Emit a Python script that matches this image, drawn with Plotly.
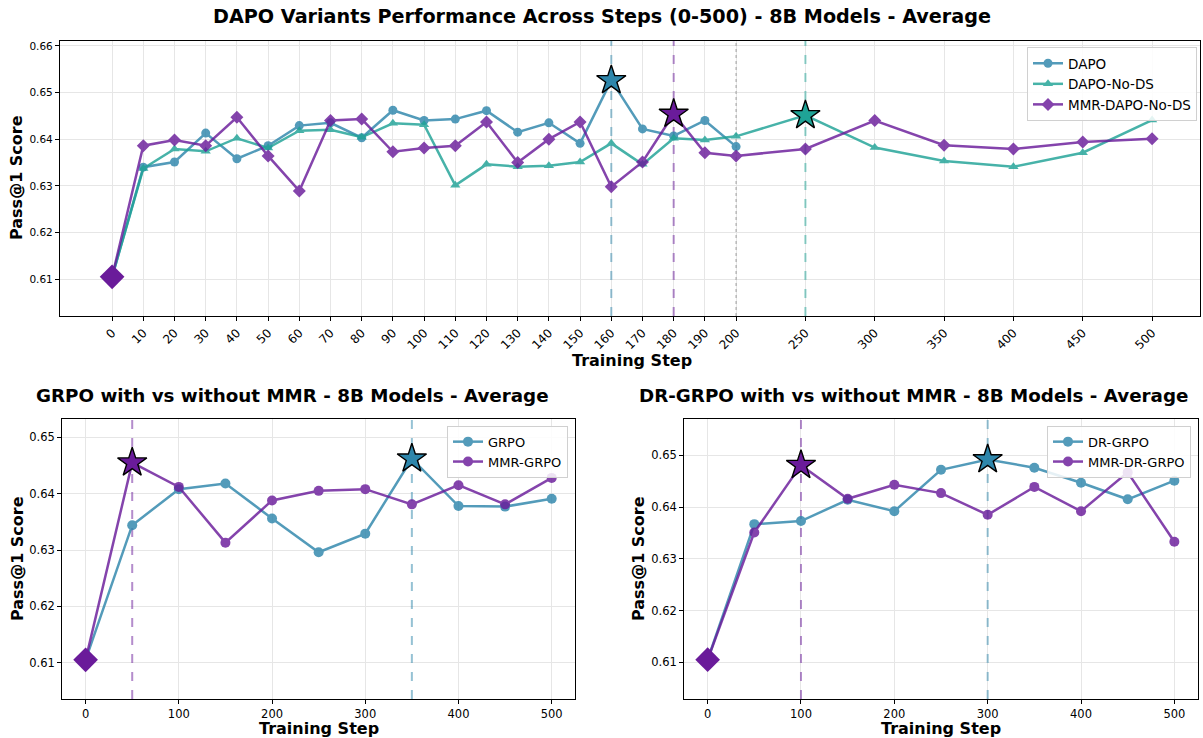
import plotly.graph_objects as go

# ---- data -------------------------------------------------------------
steps_dapo = list(range(0, 201, 10))
steps_full = list(range(0, 201, 10)) + [250, 300, 350, 400, 450, 500]
top_ticks = steps_full

dapo = [0.6105, 0.6340, 0.6351, 0.6413, 0.6358, 0.6386, 0.6429, 0.6435, 0.6403,
        0.6462, 0.6440, 0.6443, 0.6461, 0.6415, 0.6435, 0.6391, 0.6526, 0.6422,
        0.6407, 0.6440, 0.6384]
dapo_no_ds = [0.6105, 0.6337, 0.6379, 0.6374, 0.6402, 0.6381, 0.6418, 0.6420, 0.6404,
              0.6434, 0.6431, 0.6301, 0.6346, 0.6341, 0.6343, 0.6351, 0.6391, 0.6346,
              0.6402, 0.6398, 0.6406, 0.6451, 0.6382, 0.6353, 0.6341, 0.6371, 0.6441]
mmr_dapo_no_ds = [0.6105, 0.6386, 0.6398, 0.6386, 0.6447, 0.6364, 0.6289, 0.6440, 0.6443,
                  0.6373, 0.6381, 0.6386, 0.6437, 0.6350, 0.6400, 0.6437, 0.6298, 0.6351,
                  0.6454, 0.6371, 0.6364, 0.6379, 0.6440, 0.6387, 0.6379, 0.6394, 0.6401]

steps_coarse = [0, 50, 100, 150, 200, 250, 300, 350, 400, 450, 500]
grpo = [0.6105, 0.6344, 0.6408, 0.6418, 0.6356, 0.6296, 0.6329, 0.6462, 0.6378, 0.6377, 0.6391]
mmr_grpo = [0.6105, 0.6455, 0.6412, 0.6313, 0.6388, 0.6405, 0.6408, 0.6381, 0.6415, 0.6381, 0.6428]
dr_grpo = [0.6105, 0.6367, 0.6373, 0.6414, 0.6392, 0.6472, 0.6492, 0.6476, 0.6447, 0.6415, 0.6451]
mmr_dr_grpo = [0.6105, 0.6351, 0.6481, 0.6416, 0.6443, 0.6427, 0.6385, 0.6439, 0.6392, 0.6467, 0.6333]

# ---- style ------------------------------------------------------------
BLUE = "#2E86AB"
TEAL = "#1FA396"
PURPLE = "#6A1B9A"
FONT = "DejaVu Sans"
W, H = 1203, 738

Y_TOP = [0.6021, 0.6611]
Y_GRPO = [0.60355, 0.6532]
Y_DR = [0.60291, 0.65696]


def top_pos(step):
    """Compressed position for the top axis: steps past 200 are squeezed."""
    return step if step <= 200 else 200 + (step - 200) * 4 / 9


def px_x(p):
    return p / W


def px_y(p):
    return 1 - p / H


def best(x, y):
    i = max(range(len(y)), key=lambda k: y[k])
    return x[i], y[i]


fig = go.Figure()


def vline(x, yr, color, xa, ya, dash="dash", width=2, opacity=0.5):
    # drawn as a trace so it sits above the grid but under the data
    fig.add_trace(go.Scatter(
        x=[x, x], y=yr, mode="lines", showlegend=False, hoverinfo="skip",
        line=dict(color=color, width=width, dash=dash), opacity=opacity,
        xaxis=xa, yaxis=ya,
    ))


def add_series(x, y, name, color, symbol, size, xa, ya, legend):
    fig.add_trace(go.Scatter(
        x=x, y=y, name=name, mode="lines+markers",
        line=dict(color=color, width=2.5),
        marker=dict(color=color, symbol=symbol, size=size),
        opacity=0.82, xaxis=xa, yaxis=ya, legend=legend,
    ))


def add_star(x, y, color, xa, ya):
    bx, by = best(x, y)
    fig.add_trace(go.Scatter(
        x=[bx], y=[by], mode="markers", showlegend=False,
        marker=dict(symbol="star", size=22, color=color, line=dict(color="black", width=1.4)),
        xaxis=xa, yaxis=ya,
    ))


def add_start(x, y, xa, ya):
    fig.add_trace(go.Scatter(
        x=[x[0]], y=[y[0]], mode="markers", showlegend=False,
        marker=dict(symbol="diamond", size=19, color=PURPLE),
        xaxis=xa, yaxis=ya,
    ))


# ---- top panel --------------------------------------------------------
xd = [top_pos(s) for s in steps_dapo]
xf = [top_pos(s) for s in steps_full]
vline(best(xd, dapo)[0], Y_TOP, BLUE, "x", "y")
vline(best(xf, mmr_dapo_no_ds)[0], Y_TOP, PURPLE, "x", "y")
vline(top_pos(200), Y_TOP, "gray", "x", "y", dash="dot", width=1.2, opacity=0.6)
vline(best(xf, dapo_no_ds)[0], Y_TOP, TEAL, "x", "y")
add_series(xd, dapo, "DAPO", BLUE, "circle", 9, "x", "y", "legend")
add_series(xf, dapo_no_ds, "DAPO-No-DS", TEAL, "triangle-up", 9, "x", "y", "legend")
add_series(xf, mmr_dapo_no_ds, "MMR-DAPO-No-DS", PURPLE, "diamond", 10, "x", "y", "legend")
add_star(xd, dapo, BLUE, "x", "y")
add_star(xf, dapo_no_ds, TEAL, "x", "y")
add_star(xf, mmr_dapo_no_ds, PURPLE, "x", "y")
add_start(xf, mmr_dapo_no_ds, "x", "y")

# ---- bottom left ------------------------------------------------------
vline(best(steps_coarse, mmr_grpo)[0], Y_GRPO, PURPLE, "x2", "y2")
vline(best(steps_coarse, grpo)[0], Y_GRPO, BLUE, "x2", "y2")
add_series(steps_coarse, grpo, "GRPO", BLUE, "circle", 10, "x2", "y2", "legend2")
add_series(steps_coarse, mmr_grpo, "MMR-GRPO", PURPLE, "circle", 10, "x2", "y2", "legend2")
add_star(steps_coarse, grpo, BLUE, "x2", "y2")
add_star(steps_coarse, mmr_grpo, PURPLE, "x2", "y2")
add_start(steps_coarse, mmr_grpo, "x2", "y2")

# ---- bottom right -----------------------------------------------------
vline(best(steps_coarse, mmr_dr_grpo)[0], Y_DR, PURPLE, "x3", "y3")
vline(best(steps_coarse, dr_grpo)[0], Y_DR, BLUE, "x3", "y3")
add_series(steps_coarse, dr_grpo, "DR-GRPO", BLUE, "circle", 10, "x3", "y3", "legend3")
add_series(steps_coarse, mmr_dr_grpo, "MMR-DR-GRPO", PURPLE, "circle", 10, "x3", "y3", "legend3")
add_star(steps_coarse, dr_grpo, BLUE, "x3", "y3")
add_star(steps_coarse, mmr_dr_grpo, PURPLE, "x3", "y3")
add_start(steps_coarse, mmr_dr_grpo, "x3", "y3")

# ---- axes -------------------------------------------------------------
axis_common = dict(
    showline=True, linecolor="black", linewidth=1.2, mirror=True,
    ticks="outside", ticklen=4, tickcolor="black",
    showgrid=True, gridcolor="#e6e6e6", gridwidth=1, zeroline=False,
)

fig.update_layout(
    width=W, height=H, margin=dict(l=0, r=0, t=0, b=0),
    paper_bgcolor="white", plot_bgcolor="white",
    font=dict(family=FONT, color="black"),
    xaxis=dict(axis_common, domain=[px_x(60), px_x(1200)], anchor="y",
               range=[-16.7, 348.7],
               tickvals=[top_pos(s) for s in top_ticks], ticktext=[str(s) for s in top_ticks],
               tickangle=-45, tickfont=dict(size=12)),
    yaxis=dict(axis_common, domain=[px_y(316), px_y(40.7)], anchor="x",
               range=Y_TOP, tickvals=[0.61, 0.62, 0.63, 0.64, 0.65, 0.66],
               tickformat=".2f", tickfont=dict(size=10.5)),
    xaxis2=dict(axis_common, domain=[px_x(62.3), px_x(575)], anchor="y2",
                range=[-25, 525], tickvals=[0, 100, 200, 300, 400, 500],
                tickfont=dict(size=11.5)),
    yaxis2=dict(axis_common, domain=[px_y(699), px_y(419.3)], anchor="x2",
                range=Y_GRPO, tickvals=[0.61, 0.62, 0.63, 0.64, 0.65],
                tickformat=".2f", tickfont=dict(size=11.5)),
    xaxis3=dict(axis_common, domain=[px_x(684.3), px_x(1197.7)], anchor="y3",
                range=[-25, 525], tickvals=[0, 100, 200, 300, 400, 500],
                tickfont=dict(size=11.5)),
    yaxis3=dict(axis_common, domain=[px_y(699), px_y(419.3)], anchor="x3",
                range=Y_DR, tickvals=[0.61, 0.62, 0.63, 0.64, 0.65],
                tickformat=".2f", tickfont=dict(size=11.5)),
)

legend_common = dict(bgcolor="rgba(255,255,255,0.85)", bordercolor="#d0d0d0",
                     borderwidth=1, xanchor="right", yanchor="top",
                     font=dict(size=13, family=FONT), tracegroupgap=0)
fig.update_layout(
    legend=dict(legend_common, x=px_x(1197), y=px_y(47), font=dict(size=13.5, family=FONT)),
    legend2=dict(legend_common, x=px_x(568), y=px_y(425.7)),
    legend3=dict(legend_common, x=px_x(1191), y=px_y(425.7)),
)

# ---- titles -----------------------------------------------------------
def text(x, y, s, size, angle=0):
    fig.add_annotation(x=px_x(x), y=px_y(y), xref="paper", yref="paper",
                       text=f"<b>{s}</b>", showarrow=False, textangle=angle,
                       font=dict(size=size, family=FONT, color="black"),
                       xanchor="center", yanchor="middle")


text(602, 16, "DAPO Variants Performance Across Steps (0-500) - 8B Models - Average", 19.2)
text(292, 395, "GRPO with vs without MMR - 8B Models - Average", 18.3)
text(913, 395, "DR-GRPO with vs without MMR - 8B Models - Average", 18.3)

text(632, 360, "Training Step", 16)
text(318.7, 728, "Training Step", 16)
text(941, 728, "Training Step", 16)
text(17, 178, "Pass@1 Score", 16, angle=-90)
text(17, 559, "Pass@1 Score", 16, angle=-90)
text(638, 559, "Pass@1 Score", 16, angle=-90)

fig.write_html("out.html")
